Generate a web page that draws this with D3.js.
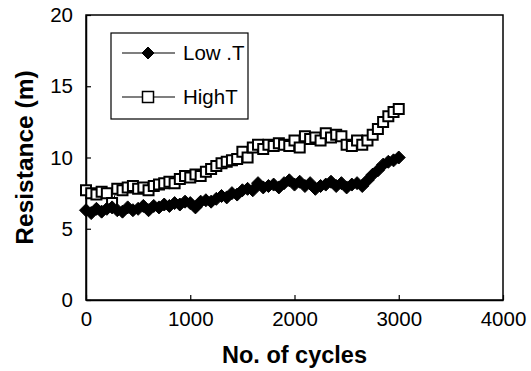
<!DOCTYPE html>
<html>
<head>
<meta charset="utf-8">
<script src="https://cdn.jsdelivr.net/npm/d3@7"></script>
<style>
  html, body { margin: 0; padding: 0; background: #fff; }
  svg { display: block; }
</style>
</head>
<body>
<script>
// cycles sampled every 50 up to 3000
const cycles = d3.range(0, 3001, 50);

const lowT = [
  6.3, 6.1, 6.4, 6.2, 6.4, 6.5, 6.3, 6.2, 6.5, 6.3,
  6.4, 6.6, 6.3, 6.6, 6.5, 6.7, 6.6, 6.8, 6.7, 6.9,
  6.8, 6.5, 6.9, 7.0, 6.9, 7.1, 7.3, 7.2, 7.5, 7.4,
  7.7, 7.8, 7.7, 8.2, 7.9, 8.0, 8.1, 7.9, 8.2, 8.4,
  8.1, 8.3, 8.0, 8.2, 7.8, 8.0, 8.1, 8.3, 8.0, 8.2,
  7.9, 8.1, 8.2, 8.0, 8.4, 8.8, 9.1, 9.5, 9.7, 9.8,
  10.0
];

const highT = [
  7.7, 7.5, 7.4, 7.6, 7.5, 6.8, 7.8, 7.7, 7.9, 8.0,
  7.8, 7.9, 7.7, 8.0, 8.1, 8.2, 8.3, 8.2, 8.5, 8.7,
  8.6, 8.8, 8.7, 9.0, 9.2, 9.4, 9.6, 9.7, 9.8, 9.9,
  10.4, 10.0, 10.7, 10.9, 10.6, 10.9, 10.8, 11.0, 10.9, 10.8,
  11.2, 10.7, 11.5, 11.3, 11.4, 11.2, 11.7, 11.4, 11.6, 11.5,
  10.9, 10.8, 11.2, 10.9, 11.2, 11.6, 12.0, 12.5, 12.9, 13.2,
  13.4
];

const xTicks = [0, 1000, 2000, 3000, 4000];
const yTicks = [0, 5, 10, 15, 20];
const seriesNames = ["Low .T", "HighT"];

const W = 531, H = 371;
const margin = { top: 15, right: 28, bottom: 71, left: 86 };
const font = '"Liberation Sans", Arial, Helvetica, sans-serif';

const svg = d3.select("body").append("svg")
  .attr("width", W)
  .attr("height", H)
  .style("font-family", font);

const x = d3.scaleLinear().domain([0, 4000]).range([margin.left, W - margin.right]);
const y = d3.scaleLinear().domain([0, 20]).range([H - margin.bottom, margin.top]);

// frame
svg.append("rect")
  .attr("x", x(0)).attr("y", y(20))
  .attr("width", x(4000) - x(0)).attr("height", y(0) - y(20))
  .attr("fill", "none").attr("stroke", "#000").attr("stroke-width", 1.5);

// axes, ticks pointing inward
const xAxis = svg.append("g")
  .attr("transform", `translate(0,${y(0)})`)
  .call(d3.axisBottom(x).tickValues(xTicks).tickFormat(d3.format("d"))
    .tickSizeInner(-5).tickSizeOuter(0).tickPadding(11));
const yAxis = svg.append("g")
  .attr("transform", `translate(${x(0)},0)`)
  .call(d3.axisLeft(y).tickValues(yTicks).tickFormat(d3.format("d"))
    .tickSizeInner(-5).tickSizeOuter(0).tickPadding(13));

[xAxis, yAxis].forEach(g => {
  g.select(".domain").attr("stroke", "#000").attr("stroke-width", 1.5);
  g.selectAll(".tick line").attr("stroke", "#000").attr("stroke-width", 1.2);
  g.selectAll(".tick text")
    .attr("fill", "#000")
    .style("font-family", font)
    .style("font-size", "20.5px");
});

// axis titles
svg.append("text")
  .attr("x", (x(0) + x(4000)) / 2)
  .attr("y", 363)
  .attr("text-anchor", "middle")
  .style("font-size", "23.5px")
  .style("font-weight", "bold")
  .text("No. of cycles");

svg.append("text")
  .attr("transform", `translate(33,${(y(0) + y(20)) / 2}) rotate(-90)`)
  .attr("text-anchor", "middle")
  .style("font-size", "24.5px")
  .style("font-weight", "bold")
  .text("Resistance (m)");

// markers
const diamondPath = r => `M0,${-r}L${r},0L0,${r}L${-r},0Z`;
const squarePath = s => `M${-s},${-s}H${s}V${s}H${-s}Z`;

const lowData = cycles.map((c, i) => ({ c, v: lowT[i] }));
const highData = cycles.map((c, i) => ({ c, v: highT[i] }));

const line = d3.line().x(d => x(d.c)).y(d => y(d.v));

// HighT series
svg.append("path").datum(highData)
  .attr("d", line).attr("fill", "none").attr("stroke", "#000").attr("stroke-width", 1);
svg.append("g").selectAll("path")
  .data(highData).join("path")
  .attr("transform", d => `translate(${x(d.c)},${y(d.v)})`)
  .attr("d", squarePath(5))
  .attr("fill", "#fff").attr("stroke", "#000").attr("stroke-width", 2);

// Low.T series
svg.append("path").datum(lowData)
  .attr("d", line).attr("fill", "none").attr("stroke", "#000").attr("stroke-width", 1);
svg.append("g").selectAll("path")
  .data(lowData).join("path")
  .attr("transform", d => `translate(${x(d.c)},${y(d.v)})`)
  .attr("d", diamondPath(6.5))
  .attr("fill", "#000").attr("stroke", "#000").attr("stroke-width", 1);

// legend
const lg = svg.append("g").attr("transform", "translate(111,33)");
lg.append("rect")
  .attr("width", 137).attr("height", 86)
  .attr("fill", "#fff").attr("stroke", "#000").attr("stroke-width", 1.2);

seriesNames.forEach((name, i) => {
  const ly = 20 + i * 44;
  const row = lg.append("g").attr("transform", `translate(0,${ly})`);
  row.append("line")
    .attr("x1", 11).attr("x2", 64).attr("y1", 0).attr("y2", 0)
    .attr("stroke", "#000").attr("stroke-width", 1.2);
  row.append("path")
    .attr("transform", "translate(37,0)")
    .attr("d", i === 0 ? diamondPath(6) : squarePath(5.5))
    .attr("fill", i === 0 ? "#000" : "#fff")
    .attr("stroke", "#000").attr("stroke-width", i === 0 ? 1 : 1.5);
  row.append("text")
    .attr("x", 72).attr("y", 7)
    .style("font-size", "20.5px")
    .text(name);
});
</script>
</body>
</html>
